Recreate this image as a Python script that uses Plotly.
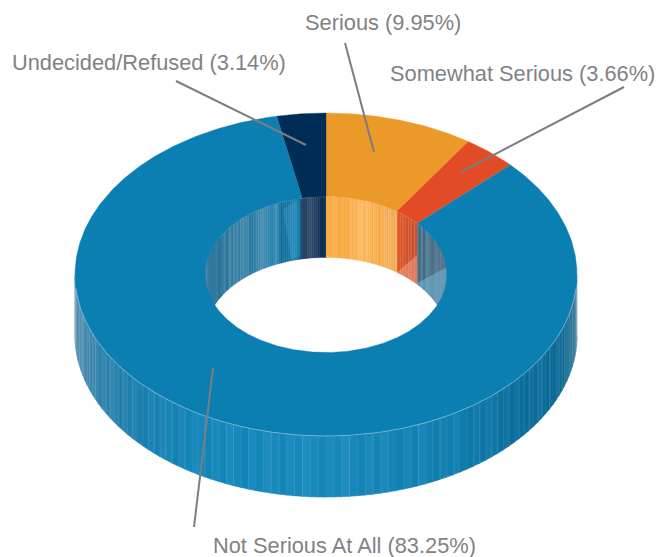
import numpy as np
import plotly.graph_objects as go

# ---- data ----
categories = ["Serious", "Somewhat Serious", "Not Serious At All", "Undecided/Refused"]
values = [9.95, 3.66, 83.25, 3.14]
labels = ["Serious (9.95%)", "Somewhat Serious (3.66%)", "Not Serious At All (83.25%)", "Undecided/Refused (3.14%)"]
colors = ["#eb9a29", "#e34b26", "#0b7eb2", "#002d56"]

# ---- geometry ----
CX, CY, RX, RY = 326.0, 274.5, 251.0, 161.5
IRX, IRY, DEPTH = 121.0, 78.0, 61.0
STRIP = 1.8

def pt(theta, rx, ry, dy=0.0):
    a = np.radians(theta)
    return CX + rx * np.sin(a), CY - ry * np.cos(a) + dy

def outer_angle(theta):
    # slight perspective shift of the outer rim on the upper right
    return np.interp(theta, [0, 55, 100, 360], [0, 53, 100, 360])

def lerp_stops(v, stops):
    xs = [s[0] for s in stops]
    rgb = [tuple(int(s[1][i:i + 2], 16) for i in (1, 3, 5)) for s in stops]
    return tuple(float(np.interp(v, xs, [c[k] for c in rgb])) for k in range(3))

def css(c):
    return "rgb(%d,%d,%d)" % tuple(int(round(min(255, max(0, k)))) for k in c)

def shade(c, f):
    return tuple(k + (255 - k) * f if f > 0 else k * (1 + f) for k in c)

fig = go.Figure()

def poly(xs, ys, fill, line=None, w=0.6):
    fig.add_trace(go.Scatter(x=xs, y=ys, mode="lines", fill="toself", fillcolor=fill,
                             line=dict(color=line or fill, width=w), hoverinfo="skip",
                             showlegend=False))

OUTER_STOPS = [(75, "#5a90ae"), (88, "#3f87ad"), (105, "#2c82ac"), (140, "#1a80b0"), (200, "#1286ba"),
               (326, "#1789bc"), (450, "#0f7eb0"), (520, "#0a6d9c"), (560, "#0c6895"), (572, "#227296"), (577, "#4c829c")]
# outer wall, front half
th = np.arange(90, 270 + 1e-6, STRIP)
for i in range(len(th) - 1):
    t0, t1 = th[i], min(th[i + 1] + 0.25, 270)
    x0, y0 = pt(t0, RX, RY)
    x1, y1 = pt(t1, RX, RY)
    mid = (x0 + x1) / 2
    base = lerp_stops(mid, OUTER_STOPS)
    poly([x0, x1, x1, x0], [y0, y1, y1 + DEPTH, y0 + DEPTH], css(shade(base, 0.015 * (i * 7 % 5) - 0.02)))
# light rules on the outer wall
for i, t in enumerate(np.arange(91.8, 270, STRIP)):
    if i % 9 == 4:
        continue
    x0, y0 = pt(t, RX, RY)
    fig.add_trace(go.Scatter(x=[x0, x0], y=[y0, y0 + DEPTH], mode="lines",
                             line=dict(color="rgba(255,255,255,%.2f)" % (0.12 + 0.05 * (i * 5 % 3)), width=0.7),
                             hoverinfo="skip", showlegend=False))

INNER_STOPS = [(205, "#4f8cac"), (209, "#156892"), (222, "#156892"), (228, "#2f7aa0"), (245, "#3f86aa"),
               (252, "#2277a3"), (262, "#4a90b4"), (270, "#2480ad"), (276, "#4494ba"), (282, "#0c6a9b"),
               (296, "#1a80b2"), (300, "#066394"),
               (300.01, "#264465"), (312, "#2b4a69"), (318, "#103357"), (326, "#0c3156"),
               (326.01, "#fbab42"), (350, "#fbac45"), (358, "#fdb65a"), (372, "#fcb250"), (378, "#fbab42"),
               (386, "#f6b05c"), (397.5, "#f4ad55"),
               (397.51, "#df5a2a"), (405, "#d95428"), (417, "#c9502c"),
               (417.01, "#3f6c8b"), (432, "#436d88"), (447, "#47647d")]
# inner wall, back half
th = np.arange(-90, 90 + 1e-6, 1.0)
for i in range(len(th) - 1):
    t0, t1 = th[i], min(th[i + 1] + 0.1, 90)
    x0, y0 = pt(t0, IRX, IRY)
    x1, y1 = pt(t1, IRX, IRY)
    base = lerp_stops((x0 + x1) / 2, INNER_STOPS)
    poly([x0, x1, x1, x0], [y0, y1, y1 + DEPTH, y0 + DEPTH],
         css(shade(base, 0.02 * (i * 7 % 4) - 0.03)), w=0.3)
# stripes on orange inner wall
for i, t in enumerate(np.arange(8, 30, 1.9)):
    x0, y0 = pt(t, IRX, IRY)
    fig.add_trace(go.Scatter(x=[x0, x0], y=[y0, y0 + DEPTH], mode="lines",
                             line=dict(color="rgba(255,225,170,%.2f)" % (0.15 + 0.08 * (i * 3 % 4)), width=0.7),
                             hoverinfo="skip", showlegend=False))

# faces of the slices glimpsed through the hole
def arc(a, b, n=30):
    ts = np.linspace(a, b, n)
    return [pt(t, IRX, IRY, DEPTH) for t in ts]

cum = np.cumsum([0] + values) * 3.6
a_ser, a_som = cum[1], cum[2]
p = arc(a_som, 90)
poly([417, 447] + [q[0] for q in p][::-1], [283, 267] + [q[1] for q in p][::-1], "rgba(120,190,222,0.50)", w=0)
p = arc(a_ser, a_som)
poly([397.5, 417] + [q[0] for q in p][::-1], [272, 255] + [q[1] for q in p][::-1], "rgba(255,190,170,0.38)", w=0)
poly([283, 300, 300, 291], [209, 199, 257, 259], "rgba(90,185,225,0.22)", w=0)

# rims
ts = np.linspace(-62, 62, 120)
p = [pt(t, IRX, IRY) for t in ts]
fig.add_trace(go.Scatter(x=[q[0] for q in p], y=[q[1] for q in p], mode="lines",
                         line=dict(color="rgba(255,255,255,0.35)", width=0.8), hoverinfo="skip", showlegend=False))

# top faces
start = 0.0
for name, v, col in zip(categories, values, colors):
    end = start + v * 3.6
    ts = np.linspace(start, end, max(8, int(v * 8)))
    o = [pt(outer_angle(t), RX, RY) for t in ts]
    n = [pt(t, IRX, IRY) for t in ts[::-1]]
    poly([q[0] for q in o + n], [q[1] for q in o + n], col, w=0.4)
    start = end
ts = np.linspace(95, 265, 200)
p = [pt(t, RX, RY) for t in ts]
fig.add_trace(go.Scatter(x=[q[0] for q in p], y=[q[1] for q in p], mode="lines",
                         line=dict(color="rgba(255,255,255,0.40)", width=0.9), hoverinfo="skip", showlegend=False))

# leaders
LEADERS = [((345, 43), (374, 152)), ((624, 87), (461, 172)), ((213, 368), (194, 527)), ((176, 81), (306, 145))]
for a, b in LEADERS:
    fig.add_trace(go.Scatter(x=[a[0], b[0]], y=[a[1], b[1]], mode="lines",
                             line=dict(color="#7d7d7d", width=2), hoverinfo="skip", showlegend=False))

# labels
LABEL_POS = [(383, 22, "center"), (522, 73, "center"), (344.5, 545, "center"), (148.5, 62, "center")]
for text, (x, y, anc) in zip(labels, LABEL_POS):
    fig.add_annotation(x=x, y=y, xref="x", yref="y", text=text, showarrow=False, xanchor=anc, yanchor="middle",
                       font=dict(family="Liberation Sans", size=21.8, color="#808285"))

fig.update_layout(margin=dict(l=0, r=0, t=0, b=0), width=657, height=557,
                  paper_bgcolor="white", plot_bgcolor="white", showlegend=False,
                  xaxis=dict(range=[0, 657], visible=False, fixedrange=True),
                  yaxis=dict(range=[557, 0], visible=False, fixedrange=True))
fig.write_html("out.html", post_script="document.body.style.margin='0';document.documentElement.style.overflow='hidden';",
               config={"displayModeBar": False})
